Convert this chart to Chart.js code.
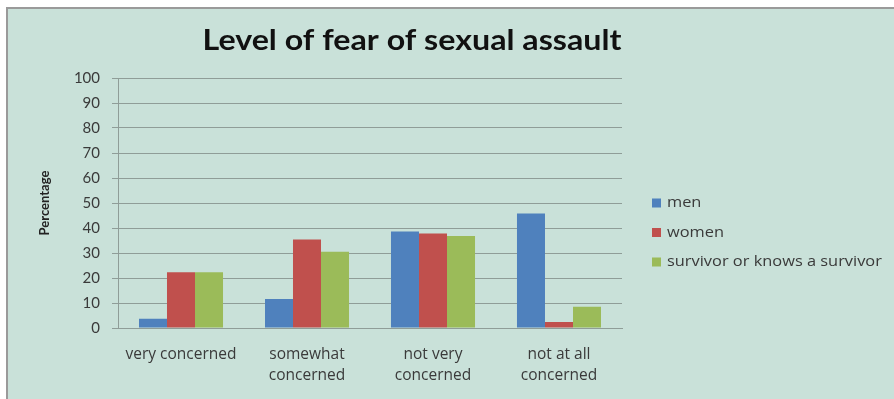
<!DOCTYPE html>
<html>
<head>
<meta charset="utf-8">
<script src="https://cdn.jsdelivr.net/npm/chart.js@4.4.0/dist/chart.umd.min.js"></script>
<style>
    html, body { margin: 0; padding: 0; background: #fff; }
    #frame {
        position: absolute;
        left: 6px; top: 7px; right: 0; bottom: 0;
        border-left: 2px solid #9a9a9a;
        border-top: 2px solid #9a9a9a;
        background: #c9e1d9;
    }
    #fearChart { display: block; }
</style>
</head>
<body>
<div id="frame"><canvas id="fearChart" width="886" height="390"></canvas></div>
<script>
// Survey answers, percent of each group
const categories = [
    ['very concerned'],
    ['somewhat', 'concerned'],
    ['not very', 'concerned'],
    ['not at all', 'concerned']
];
const seriesNames = ['men', 'women', 'survivor or knows a survivor'];
const menValues = [3.7, 11.6, 38.6, 45.8];
const womenValues = [22.3, 35.4, 37.8, 2.4];
const survivorValues = [22.3, 30.5, 36.8, 8.5];
const yTicks = [0, 10, 20, 30, 40, 50, 60, 70, 80, 90, 100];

const textColor = '#3a3a3a';
const lineColor = '#8f9d98';

// Title and legend are placed by hand, like the office chart they come from
const titlePlugin = {
    id: 'titleText',
    afterDraw(chart) {
        const ctx = chart.ctx;
        ctx.save();
        ctx.translate(404, 32);
        ctx.scale(1.15, 1);
        ctx.font = 'bold 28px Lato';
        ctx.fillStyle = '#111';
        ctx.textAlign = 'center';
        ctx.textBaseline = 'middle';
        ctx.fillText('Level of fear of sexual assault', 0, 0);
        ctx.restore();
    }
};

const sideLegend = {
    id: 'sideLegend',
    afterDraw(chart) {
        const ctx = chart.ctx;
        ctx.save();
        ctx.font = '14.5px "Open Sans"';
        ctx.textBaseline = 'middle';
        chart.data.datasets.forEach((ds, i) => {
            const y = 194 + i * 29.5;
            ctx.fillStyle = ds.backgroundColor;
            ctx.fillRect(644, y - 4.5, 9, 9);
            ctx.save();
            ctx.translate(659, y);
            ctx.scale(1.13, 1);
            ctx.fillStyle = textColor;
            ctx.fillText(ds.label, 0, 0);
            ctx.restore();
        });
        ctx.restore();
    }
};

new Chart(document.getElementById('fearChart'), {
    type: 'bar',
    data: {
        labels: categories,
        datasets: [
            { label: seriesNames[0], data: menValues, backgroundColor: '#4f81bd' },
            { label: seriesNames[1], data: womenValues, backgroundColor: '#c0504d' },
            { label: seriesNames[2], data: survivorValues, backgroundColor: '#9bbb59' }
        ]
    },
    options: {
        responsive: false,
        animation: false,
        layout: { padding: { top: 69, right: 272, left: 0, bottom: 0 } },
        datasets: {
            bar: { categoryPercentage: 0.667, barPercentage: 1.0 }
        },
        plugins: {
            legend: { display: false },
            tooltip: { enabled: false }
        },
        scales: {
            x: {
                grid: { display: false, drawTicks: false },
                border: { display: true, color: lineColor, width: 1 },
                ticks: {
                    color: textColor,
                    padding: 16,
                    font: { family: 'Open Sans', size: 15.5, lineHeight: 1.35 }
                },
                afterFit: (scale) => { scale.height = 71; }
            },
            y: {
                min: 0,
                max: 100,
                afterBuildTicks: (scale) => {
                    scale.ticks = yTicks.map(v => ({ value: v }));
                },
                grid: { color: lineColor, tickColor: lineColor, tickLength: 6, lineWidth: 1 },
                border: { display: true, color: lineColor, width: 1 },
                ticks: {
                    color: textColor,
                    padding: 12,
                    font: { family: 'Lato', size: 15 }
                },
                title: {
                    display: true,
                    text: 'Percentage',
                    color: '#222',
                    padding: { top: 29, bottom: 0 },
                    font: { family: 'Lato', size: 13, weight: 'bold' }
                },
                afterFit: (scale) => { scale.width = 110; }
            }
        }
    },
    plugins: [titlePlugin, sideLegend]
});
</script>
</body>
</html>
